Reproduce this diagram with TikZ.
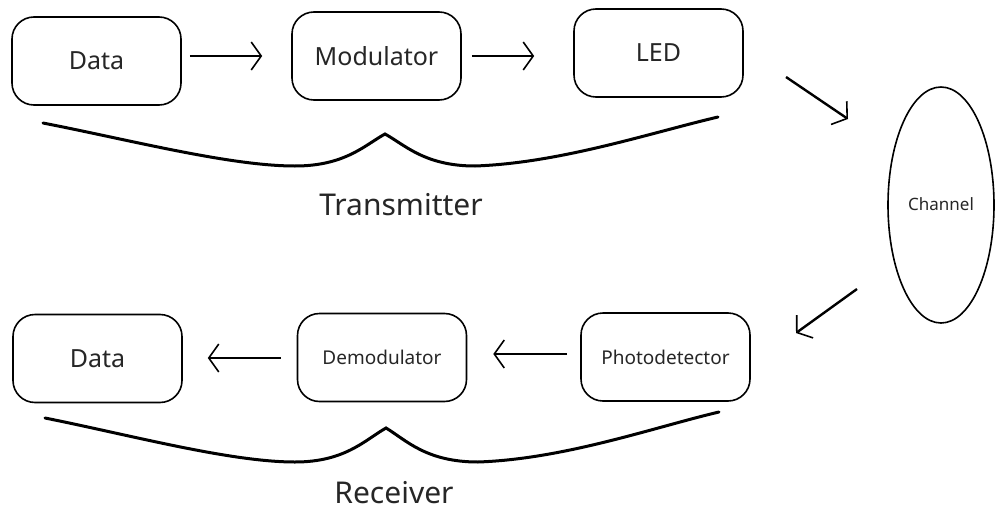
\documentclass[tikz,border=0pt]{standalone}
\usepackage{fontspec}
\setmainfont{Noto Sans}
\usetikzlibrary{arrows.meta,shapes.geometric}
\begin{document}
\begin{tikzpicture}[x=1pt,y=-1pt,
  box/.style={draw=black,line width=1.6pt,rounded corners=22pt,minimum width=169pt,minimum height=88pt,inner sep=0pt,text=black!85},
  arr/.style={line width=2.4pt,-{Straight Barb[length=10pt,width=28pt,line width=1.6pt]}},
  brace/.style={line width=3pt,line cap=round},
  big/.style={font=\fontsize{25}{30}\selectfont},
  small/.style={font=\fontsize{19}{23}\selectfont}]
\useasboundingbox (0,0) rectangle (996,514);
% top row
\node[box,big] (d1) at (96.5,61) {\raisebox{-2pt}{Data}};
\node[box,big] (mod) at (376.5,56) {Modulator};
\node[box,big] (led) at (658.5,53) {\raisebox{-2pt}{LED}};
\node[draw=black,line width=1.6pt,ellipse,minimum width=106pt,minimum height=236pt,inner sep=0pt,font=\fontsize{17}{20}\selectfont,text=black!85] (ch) at (941,205) {\raisebox{2pt}{Channel}};
% bottom row
\node[box,big] (d2) at (97.5,358.5) {Data};
\node[box,small] (dem) at (382,357.5) {Demodulator};
\node[box,small] (pd) at (665.5,357) {Photodetector};
% arrows
\draw[arr,shorten <=8pt,shorten >=29pt] (d1.east |- mod) -- (mod.west);
\draw[arr,shorten <=10pt,shorten >=39pt] (mod.east) -- (mod.east -| led.west);
\coordinate (a1s) at (786,77);
\coordinate (a1e) at (848,119);
\draw[arr] (a1s) -- (a1e);
\coordinate (a2s) at (857,289);
\coordinate (a2e) at (796,333);
\draw[arr] (a2s) -- (a2e);
\draw[arr,shorten <=13pt,shorten >=26pt] (pd.west |- 0,354) -- (dem.east |- 0,354);
\draw[arr,shorten <=16pt,shorten >=25pt] (dem.west |- 0,358) -- (d2.east |- 0,358);
% braces
\draw[brace] (43,123) .. controls (130,140) and (230,166) .. (295,166)
  .. controls (345,166) and (365,145) .. (385,134)
  .. controls (405,145) and (425,166) .. (475,166)
  .. controls (560,163) and (650,133) .. (718,117);
\node[font=\fontsize{30}{36}\selectfont,text=black!85] (tx) at (401,205) {Transmitter};
\draw[brace] (45,418) .. controls (130,435) and (230,462) .. (295,462)
  .. controls (345,462) and (365,440) .. (386,428)
  .. controls (406,440) and (426,462) .. (478,462)
  .. controls (565,459) and (655,427) .. (719,412);
\node[font=\fontsize{30}{36}\selectfont,text=black!85,anchor=base,inner sep=0pt] (rx) at (394,503) {Receiver};
\end{tikzpicture}
\end{document}
